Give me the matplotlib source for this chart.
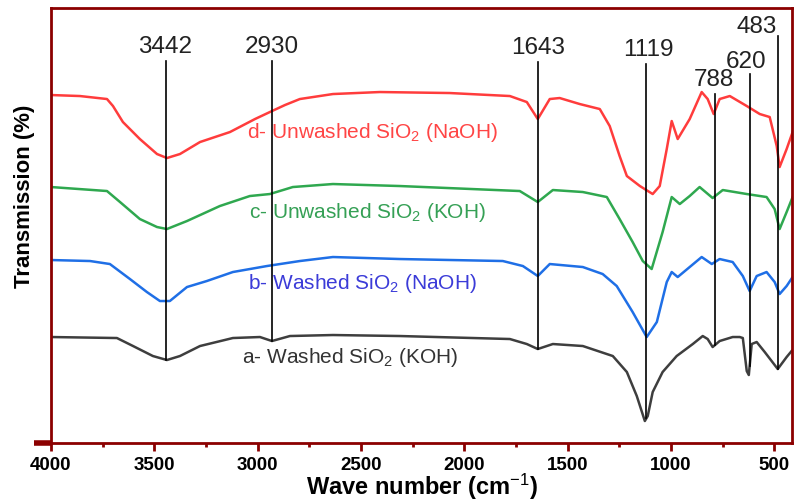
import numpy as np
import matplotlib
matplotlib.use("Agg")
from matplotlib import pyplot as plt

plt.rcParams['font.family'] = ['Liberation Sans', 'DejaVu Sans']
plt.rcParams['mathtext.fontset'] = 'custom'
plt.rcParams['mathtext.rm'] = 'Liberation Sans'
plt.rcParams['mathtext.it'] = 'Liberation Sans:italic'
plt.rcParams['mathtext.bf'] = 'Liberation Sans:bold'

# spectra (wavenumber, transmission in arbitrary units)
wn_a = [4000, 3681, 3603, 3507, 3439, 3376, 3279, 3120, 2989, 2931, 2844, 2636, 2312,
        1780, 1698, 1645, 1572, 1427, 1282, 1214, 1166, 1127, 1113, 1089, 1041, 973,
        895, 847, 823, 799, 765, 702, 668, 653, 634, 624, 610, 586, 547, 484, 441, 417]
t_a = [106, 105, 97, 87, 83, 87, 97, 105, 106, 102, 107, 108, 107,
       104, 99, 94, 99, 97, 87, 71, 47, 22, 27, 51, 71, 87,
       99, 107, 104, 96, 102, 106, 106, 105, 72, 68, 99, 101, 91, 74, 86, 92]

wn_b = [4000, 3811, 3715, 3618, 3536, 3473, 3425, 3342, 3246, 3120, 2955, 2796, 2636,
        2312, 1814, 1717, 1645, 1587, 1427, 1331, 1263, 1186, 1118, 1069, 1021, 997,
        968, 910, 852, 803, 765, 702, 653, 620, 586, 538, 499, 475, 441, 412]
t_b = [183, 182, 179, 164, 151, 142, 142, 156, 162, 171, 177, 182, 186,
       184, 182, 177, 167, 179, 176, 169, 157, 131, 106, 121, 161, 171,
       166, 176, 186, 179, 184, 181, 167, 152, 167, 171, 161, 149, 157, 166]

wn_c = [4000, 3729, 3666, 3570, 3487, 3439, 3342, 3183, 3038, 2941, 2830, 2636, 2312,
        1732, 1645, 1572, 1427, 1311, 1249, 1186, 1137, 1094, 1041, 997, 958, 910,
        862, 799, 750, 634, 538, 499, 475, 441, 412]
t_c = [256, 252, 241, 224, 216, 214, 222, 237, 247, 249, 256, 259, 257,
       252, 241, 253, 251, 246, 224, 201, 182, 174, 211, 246, 239, 247,
       256, 245, 253, 249, 246, 234, 214, 231, 246]

wn_d = [4000, 3860, 3729, 3700, 3652, 3570, 3487, 3439, 3376, 3279, 3134, 3013, 2941,
        2868, 2796, 2636, 2409, 2071, 1780, 1698, 1645, 1587, 1539, 1442, 1345, 1297,
        1249, 1214, 1151, 1089, 1055, 1021, 997, 968, 910, 852, 823, 794, 765, 716,
        634, 571, 523, 489, 475, 441, 412]
t_d = [348, 347, 344, 337, 321, 304, 289, 285, 289, 301, 311, 324, 331,
       338, 344, 349, 351, 350, 347, 341, 324, 344, 345, 339, 334, 317,
       287, 267, 257, 249, 257, 294, 322, 304, 324, 351, 344, 329, 344, 347,
       337, 329, 326, 297, 276, 294, 311]

# marked bands: position, top of the line, label x, label y
peaks = [3442, 2930, 1643, 1119, 788, 620, 483]
peak_top = [382, 382, 381, 379, 349, 369, 407]
peak_lab_x = [3450, 2930, 1643, 1110, 795, 635, 585]
peak_lab_y = [397, 397, 396, 394, 364, 382, 417]

curve_labels = ['a- Washed SiO$_2$ (KOH)', 'b- Washed SiO$_2$ (NaOH)',
                'c- Unwashed SiO$_2$ (KOH)', 'd- Unwashed SiO$_2$ (NaOH)']
label_x = [3076, 3047, 3042, 3052]
label_y = [87, 161, 232, 312]

line_cols = ['#3e3e3e', '#1f6fe6', '#2fa84f', '#ff3c3c']
text_cols = ['#333333', '#3b3bd8', '#35a055', '#ff4545']

fig = plt.figure(figsize=(7.94, 5.02), dpi=100)
ax = fig.add_axes([0.0642, 0.1155, 0.9333, 0.8665])

spectra = [(wn_a, t_a), (wn_b, t_b), (wn_c, t_c), (wn_d, t_d)]
for (w, t), c in zip(spectra, line_cols):
    ax.plot(w, t, color=c, lw=1.8)

# vertical lines from the lowest curve up to the label
for p, top in zip(peaks, peak_top):
    bottom = np.interp(p, wn_a[::-1], t_a[::-1])
    ax.plot([p, p], [bottom, top], color='black', lw=1.2)

for x, y, p in zip(peak_lab_x, peak_lab_y, peaks):
    ax.text(x, y, str(p), ha='center', va='center', fontsize=17.5, color='#222222')

for x, y, s, c in zip(label_x, label_y, curve_labels, text_cols):
    ax.text(x, y, s, ha='left', va='center', fontsize=15, color=c)

ax.set_xlim(4000, 415)
ax.set_ylim(0, 435)
ax.set_xticks([4000, 3500, 3000, 2500, 2000, 1500, 1000, 500])
ax.set_xticks([3750, 3250, 2750, 2250, 1750, 1250, 750], minor=True)
ax.set_yticks([0])
ax.set_yticklabels([''])
ax.tick_params(axis='x', which='major', direction='out', length=6, width=2,
               color='#8b0000', labelsize=13.5, pad=3)
ax.tick_params(axis='x', which='minor', direction='out', length=3, width=2,
               color='#8b0000')
ax.tick_params(axis='y', direction='out', length=12, width=4, color='#8b0000')
for lab in ax.get_xticklabels():
    lab.set_fontweight('bold')
for s in ax.spines.values():
    s.set_color('#8b0000')
    s.set_linewidth(2)

ax.set_xlabel('Wave number (cm$^{-1}$)', fontsize=17, fontweight='bold')
ax.xaxis.set_label_coords(0.5, -0.117)
ax.xaxis.label.set_verticalalignment('baseline')
ax.set_ylabel('Transmission (%)', fontsize=16, fontweight='bold')
ax.yaxis.set_label_coords(-0.036, 0.57)
ax.yaxis.label.set_verticalalignment('center')

plt.savefig('out.png', dpi=100)
